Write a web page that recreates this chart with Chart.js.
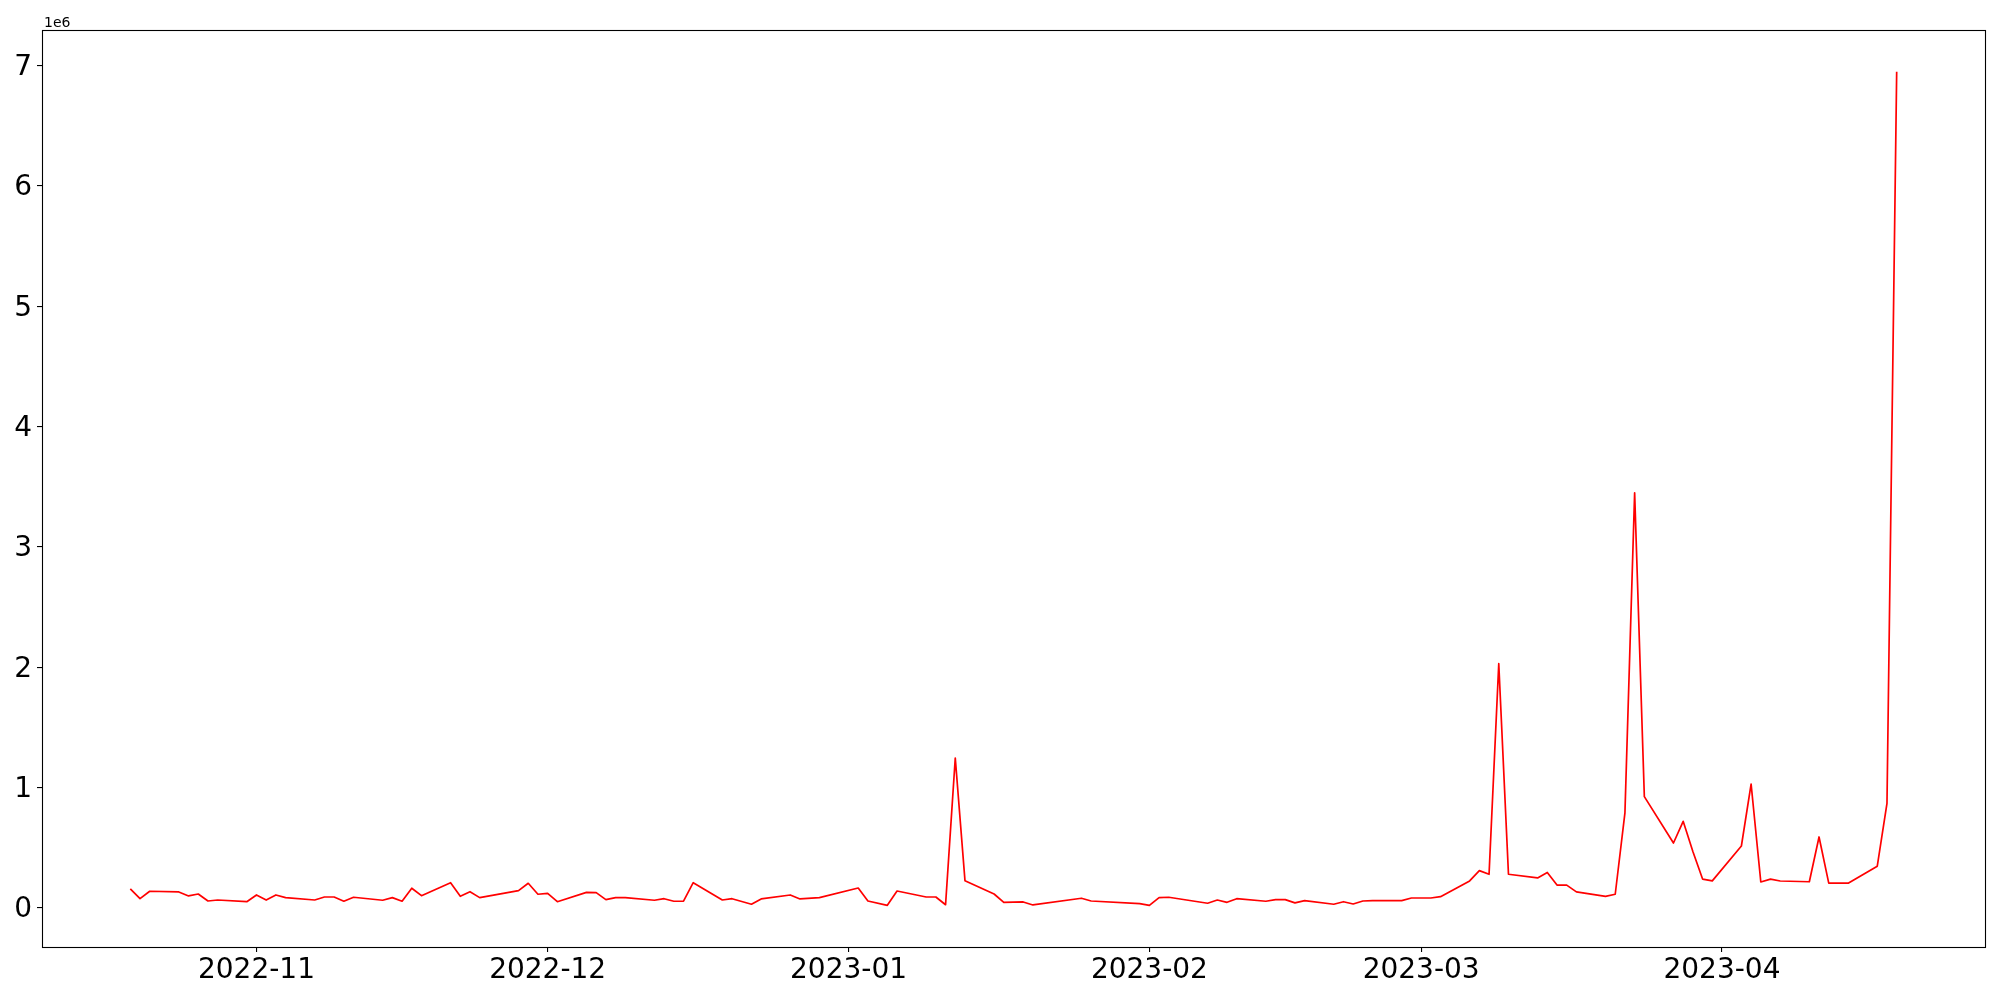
<!DOCTYPE html>
<html>
<head>
<meta charset="utf-8">
<script src="https://cdn.jsdelivr.net/npm/chart.js@4.4.0/dist/chart.umd.min.js"></script>
<style>
  html, body { margin: 0; padding: 0; background: #fff; }
  #grafico-container { width: 2000px; height: 1000px; }
</style>
</head>
<body>
<div id="grafico-container"><canvas id="grafico" width="2000" height="1000"></canvas></div>
<script>
// Datas (dias úteis) e valores
const datas = [
  '2022-10-19', '2022-10-20', '2022-10-21', '2022-10-24', '2022-10-25', '2022-10-26', '2022-10-27', '2022-10-28',
  '2022-10-31', '2022-11-01', '2022-11-02', '2022-11-03', '2022-11-04', '2022-11-07', '2022-11-08', '2022-11-09',
  '2022-11-10', '2022-11-11', '2022-11-14', '2022-11-15', '2022-11-16', '2022-11-17', '2022-11-18', '2022-11-21',
  '2022-11-22', '2022-11-23', '2022-11-24', '2022-11-28', '2022-11-29', '2022-11-30', '2022-12-01', '2022-12-02',
  '2022-12-05', '2022-12-06', '2022-12-07', '2022-12-08', '2022-12-09', '2022-12-12', '2022-12-13', '2022-12-14',
  '2022-12-15', '2022-12-16', '2022-12-19', '2022-12-20', '2022-12-22', '2022-12-23', '2022-12-26', '2022-12-27',
  '2022-12-29', '2023-01-02', '2023-01-03', '2023-01-05', '2023-01-06', '2023-01-09', '2023-01-10', '2023-01-11',
  '2023-01-12', '2023-01-13', '2023-01-16', '2023-01-17', '2023-01-19', '2023-01-20', '2023-01-25', '2023-01-26',
  '2023-01-31', '2023-02-01', '2023-02-02', '2023-02-03', '2023-02-07', '2023-02-08', '2023-02-09', '2023-02-10',
  '2023-02-13', '2023-02-14', '2023-02-15', '2023-02-16', '2023-02-17', '2023-02-20', '2023-02-21', '2023-02-22',
  '2023-02-23', '2023-02-24', '2023-02-27', '2023-02-28', '2023-03-02', '2023-03-03', '2023-03-06', '2023-03-07',
  '2023-03-08', '2023-03-09', '2023-03-10', '2023-03-13', '2023-03-14', '2023-03-15', '2023-03-16', '2023-03-17',
  '2023-03-20', '2023-03-21', '2023-03-22', '2023-03-23', '2023-03-24', '2023-03-27', '2023-03-28', '2023-03-29',
  '2023-03-30', '2023-03-31', '2023-04-03', '2023-04-04', '2023-04-05', '2023-04-06', '2023-04-07', '2023-04-10',
  '2023-04-11', '2023-04-12', '2023-04-14', '2023-04-17', '2023-04-18', '2023-04-19'
];
const valores = [
  158000, 77000, 139000, 133000, 100000, 116000, 58000, 66000,
  52000, 108000, 66000, 108000, 86000, 66000, 91000, 91000,
  56000, 89000, 64000, 86000, 56000, 164000, 102000, 210000,
  97000, 135000, 86000, 144000, 205000, 114000, 122000, 52000,
  130000, 127000, 69000, 86000, 86000, 64000, 77000, 56000,
  56000, 210000, 66000, 77000, 31000, 75000, 108000, 75000,
  86000, 166000, 58000, 22000, 141000, 91000, 91000, 27000,
  1246000, 227000, 116000, 47000, 50000, 25000, 81000, 58000,
  36000, 22000, 86000, 89000, 39000, 66000, 47000, 77000,
  56000, 69000, 69000, 42000, 61000, 31000, 52000, 33000,
  58000, 61000, 61000, 83000, 83000, 94000, 225000, 310000,
  280000, 2030000, 280000, 250000, 295000, 190000, 190000, 134000,
  97000, 114000, 790000, 3450000, 925000, 540000, 720000, 470000,
  240000, 225000, 515000, 1030000, 216000, 240000, 224000, 218000,
  590000, 206000, 206000, 347000, 870000, 6950000
];

// Marcas dos eixos
const marcasX = ['2022-11-01', '2022-12-01', '2023-01-01', '2023-02-01', '2023-03-01', '2023-04-01'];
const rotulosX = ['2022-11', '2022-12', '2023-01', '2023-02', '2023-03', '2023-04'];
const marcasY = [0, 1000000, 2000000, 3000000, 4000000, 5000000, 6000000, 7000000];
const rotulosY = ['0', '1', '2', '3', '4', '5', '6', '7'];

function paraDia(texto) {
  const p = texto.split('-').map(Number);
  return Date.UTC(p[0], p[1] - 1, p[2]) / 86400000;
}

const pontos = datas.map((d, i) => ({ x: paraDia(d), y: valores[i] }));
const diasMarcas = marcasX.map(paraDia);

// margens de 5% como no matplotlib
const xIni = pontos[0].x, xFim = pontos[pontos.length - 1].x;
const yMinDado = Math.min(...valores), yMaxDado = Math.max(...valores);
const xMargem = (xFim - xIni) * 0.05;
const yMargem = (yMaxDado - yMinDado) * 0.05;

// moldura completa e texto do expoente
const moldura = {
  id: 'moldura',
  afterDraw(chart) {
    const { ctx, chartArea: a } = chart;
    ctx.save();
    ctx.strokeStyle = '#000';
    ctx.lineWidth = 1.1;
    ctx.strokeRect(Math.round(a.left) + 0.5, Math.round(a.top) + 0.5,
      Math.round(a.right - a.left), Math.round(a.bottom - a.top));
    ctx.fillStyle = '#000';
    ctx.font = '14px "DejaVu Sans"';
    ctx.textBaseline = 'alphabetic';
    ctx.textAlign = 'left';
    ctx.fillText('1e6', a.left + 2, a.top - 3);
    ctx.restore();
  }
};

Chart.defaults.font.family = '"DejaVu Sans", sans-serif';
Chart.defaults.color = '#000';

const ctx = document.getElementById('grafico').getContext('2d');
const chart = new Chart(ctx, {
  type: 'line',
  data: {
    datasets: [
      {
        data: pontos,
        borderColor: '#ff0000',
        borderWidth: 1.7,
        borderJoinStyle: 'round',
        pointRadius: 0,
        tension: 0,
        fill: false,
      },
    ],
  },
  options: {
    responsive: false,
    animation: false,
    events: [],
    layout: { padding: { top: 30, right: 15, bottom: 0, left: 0 } },
    plugins: { legend: { display: false }, tooltip: { enabled: false } },
    scales: {
      x: {
        type: 'linear',
        min: xIni - xMargem,
        max: xFim + xMargem,
        afterBuildTicks: (scale) => {
          scale.ticks = diasMarcas.map((v) => ({ value: v }));
        },
        afterFit: (scale) => {
          scale.height = 53;
        },
        grid: { display: true, drawOnChartArea: false, drawTicks: true, tickLength: 5, color: '#000', lineWidth: 1.1 },
        border: { display: false },
        ticks: {
          autoSkip: false,
          maxRotation: 0,
          padding: 2,
          font: { size: 28 },
          callback: (v) => rotulosX[diasMarcas.indexOf(v)],
        },
      },
      y: {
        type: 'linear',
        min: yMinDado - yMargem,
        max: yMaxDado + yMargem,
        afterBuildTicks: (scale) => {
          scale.ticks = marcasY.map((v) => ({ value: v }));
        },
        afterFit: (scale) => {
          scale.width = 42;
        },
        grid: { display: true, drawOnChartArea: false, drawTicks: true, tickLength: 5, color: '#000', lineWidth: 1.1 },
        border: { display: false },
        ticks: {
          padding: 5,
          labelOffset: 2,
          font: { size: 28 },
          callback: (v) => rotulosY[marcasY.indexOf(v)],
        },
      },
    },
  },
  plugins: [moldura],
});
</script>
</body>
</html>
